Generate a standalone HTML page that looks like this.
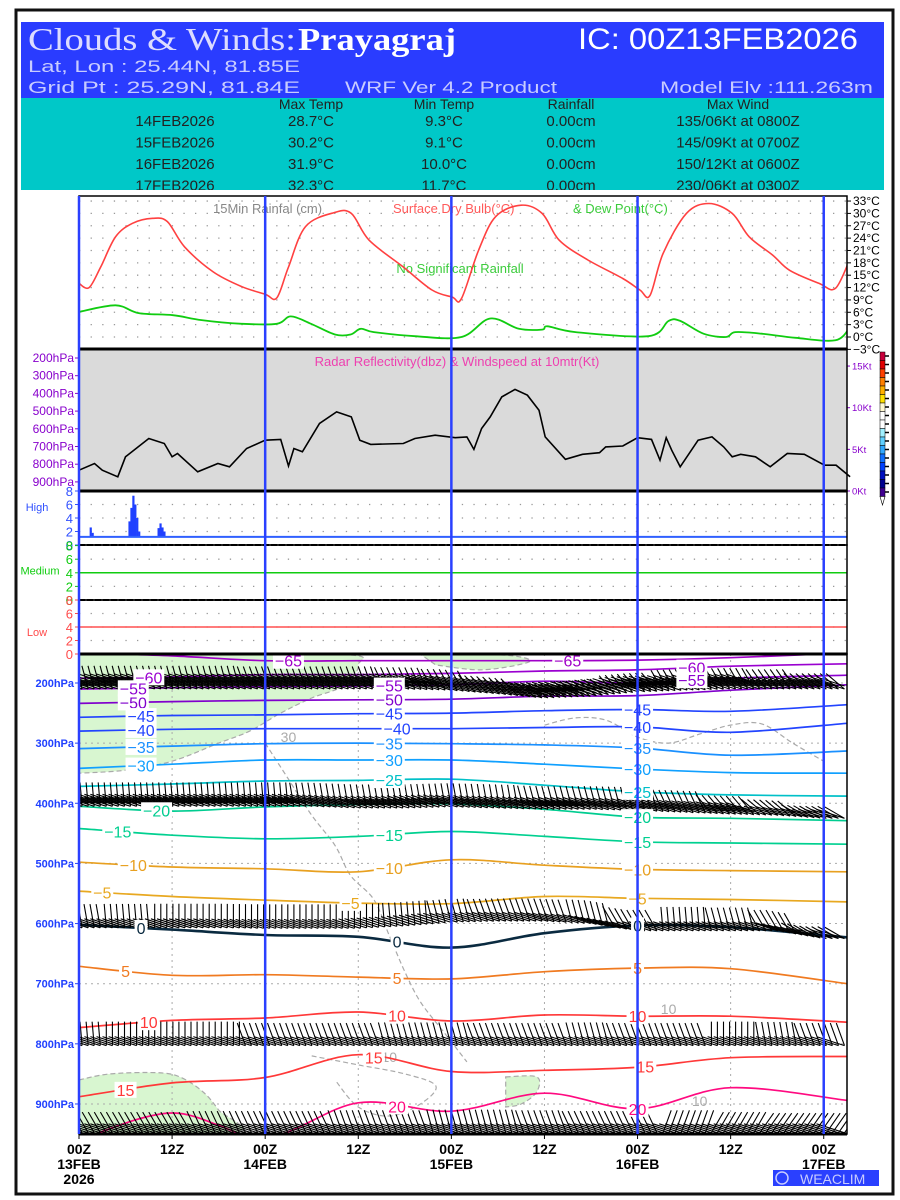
<!DOCTYPE html>
<html><head><meta charset="utf-8"><title>Clouds & Winds: Prayagraj</title>
<style>
html,body{margin:0;padding:0;background:#fff;}
svg{display:block;font-family:"Liberation Sans",sans-serif;}
</style></head>
<body>
<svg id="chart" width="900" height="1200" viewBox="0 0 900 1200" xmlns="http://www.w3.org/2000/svg">
<rect x="16" y="10" width="877" height="1184" fill="#fff" stroke="#111" stroke-width="3"/>
<g>
<rect x="21" y="22" width="863" height="76" fill="#2a3cff"/>
<text x="28" y="50" font-family="Liberation Serif,serif" font-size="32" fill="#dcdcff" textLength="268" lengthAdjust="spacingAndGlyphs">Clouds &amp; Winds:</text>
<text x="298" y="50" font-family="Liberation Serif,serif" font-size="32" font-weight="bold" fill="#fff" textLength="158" lengthAdjust="spacingAndGlyphs">Prayagraj</text>
<text x="578" y="49" font-size="30" fill="#fff" textLength="280" lengthAdjust="spacingAndGlyphs">IC: 00Z13FEB2026</text>
<text x="28" y="72" font-size="17" fill="#c8ccff" textLength="272" lengthAdjust="spacingAndGlyphs">Lat, Lon : 25.44N, 81.85E</text>
<text x="28" y="93" font-size="17" fill="#c8ccff" textLength="272" lengthAdjust="spacingAndGlyphs">Grid Pt  : 25.29N, 81.84E</text>
<text x="345" y="93" font-size="17" fill="#c8ccff" textLength="212" lengthAdjust="spacingAndGlyphs">WRF Ver 4.2 Product</text>
<text x="660" y="93" font-size="17" fill="#c8ccff" textLength="213" lengthAdjust="spacingAndGlyphs">Model Elv :111.263m</text>
<rect x="21" y="98" width="863" height="92" fill="#00c8c8"/>
</g>
<g id="tbl" font-size="15" fill="#222" text-anchor="middle"></g>
<g id="plot"></g>
</svg>
<script>
// ---------- summary table data ----------
const tblDates=["14FEB2026","15FEB2026","16FEB2026","17FEB2026"];
const tblMax=["28.7°C","30.2°C","31.9°C","32.3°C"];
const tblMin=["9.3°C","9.1°C","10.0°C","11.7°C"];
const tblRain=["0.00cm","0.00cm","0.00cm","0.00cm"];
const tblWind=["135/06Kt at 0800Z","145/09Kt at 0700Z","150/12Kt at 0600Z","230/06Kt at 0300Z"];

// ---------- surface temperature ----------
const tempT=[0,1.3,2.8,4.7,6.9,9.5,11.4,13.6,17.3,21,24,25.5,27,29.2,32.9,35.1,37.4,41.8,45.5,48.1,49.3,51.5,53.7,57,59.7,61.9,65.6,70.1,72.3,73.6,75.3,78.3,81.2,84.2,86.4,89.4,91.6,95.4,97.5,99.4];
const tempV=[13,12,17,24.3,27.6,28.8,28,21.9,15.8,12.2,10.4,9.5,17,26.8,30.2,30,23.5,17,11.4,9.7,9.3,21,29.2,32,30,23.5,18.7,14.2,11.4,10.1,20.3,30,32.4,30,24.3,19.9,16.2,13,11.8,19];
const dewT=[0,4.7,7.7,12.1,15.8,21,25.5,27.3,29.9,33,35,36.3,38,43.3,49.3,53,56.7,59.7,60.4,64,73.4,76,77.5,80.5,83.4,84.6,88,92.4,97.5,99.4];
const dewV=[6.1,7.7,5.8,5.3,4.1,3.2,3.2,5,3.2,0.6,0.6,2,1.2,0.2,0,4.5,2,1.8,2.6,1.2,0.2,3.9,3.9,0.8,0,1.2,0.8,-0.2,-0.8,2.4];
const tempTicks=[33,30,27,24,21,18,15,12,9,6,3,0,-3];

// ---------- 10m windspeed ----------
const wsT=[0,2,3,5,6,9,11,12,12.7,15.3,17.9,19.4,21.6,24,26,27,27.7,28.8,31,33.2,35.1,36.2,37.6,41.8,43.3,45.9,48.5,50,50.9,51.9,53,54.5,56.2,57.8,59.3,60.1,62.7,64.9,67.1,67.9,70.1,72,73.8,74.9,75.7,76.4,77.5,79.8,81.6,83.1,84.2,85.3,87.2,89.1,91.3,93.5,96.1,97.6,99.4];
const wsV=[2.5,3.3,2.5,1.7,4.1,6.3,5.7,4.1,4.5,2.3,3.3,2.9,5.1,6.1,6.2,3.0,5.1,4.7,8.1,9.5,8.9,6.1,5.6,5.7,6.3,6.7,6.4,6.5,5.0,7.5,8.9,11.3,12.2,11.5,9.7,6.5,3.8,4.4,4.6,5.3,5.4,6.4,6.2,3.7,6.4,4.9,2.9,6.1,6.5,5.3,4.1,4.4,4.1,2.9,4.5,4.4,3.1,3.1,1.7];
const ktTicks=[0,5,10,15];
const radarLabels=["200hPa","300hPa","400hPa","500hPa","600hPa","700hPa","800hPa","900hPa"];

// ---------- cloud fractions (high) ----------
const highT=[1.5,1.75,6.5,6.75,7,7.25,7.5,7.75,10.25,10.5,10.75,11];
const highV=[2.6,1.8,3.5,5.5,7.3,6,4,2,2.5,3.2,2.6,2];
const highBase=1.2, medLine=4, lowLine=4;

// ---------- upper air temperature contours ----------
const ctTimes=[0,12,24,36,48,60,72,84,99];
const ctLevels=[-65,-60,-55,-50,-45,-40,-35,-30,-25,-20,-15,-10,-5,0,5,10,15,20];
const ctP=[
[150,155,163,163,163,163,162,158,150],
[192,190,186,186,184,180,178,172,168],
[210,208,206,205,203,197,200,192,187],
[234,231,229,228,227,222,221,212,203],
[257,254,253,251,250,246,244,247,236],
[280,277,276,276,276,274,273,282,267],
[309,305,301,300,301,303,308,320,313],
[342,335,328,328,328,335,343,349,350],
[372,368,363,362,360,370,381,386,388],
[405,413,406,402,401,410,423,425,429],
[442,453,459,455,447,455,464,466,468],
[498,506,509,514,494,503,510,512,514],
[546,555,561,566,567,555,558,560,564],
[602,610,619,622,640,616,603,606,623],
[671,686,685,689,692,680,674,675,700],
[773,761,757,747,762,752,754,754,764],
[888,865,856,818,846,844,839,823,821],
[960,915,955,898,912,882,908,873,894]];
const ctColors=["#a000c8","#9a00d0","#8c00d0","#8000cc","#2244ff","#2244ff","#1a90ff","#10a0ff","#00c0c8","#00cc90","#00d090","#e8a020","#e8a820","#0a2a40","#f07a20","#ff3838","#ff3838","#ff0a80"];
const ctLabelT=[[27,63],[9,79],[7,40,79],[7,40],[8,40,72],[8,41,72],[8,40,72],[8,40,72],[40,72],[10,72],[5,40,72],[7,40,72],[3,35,72],[8,41,72],[6,41,72],[9,41,72],[6,38,73],[41,72]];
const pTicks=[200,300,400,500,600,700,800,900];

// ---------- moist (RH) regions ----------
const moistA_T=[0,33,36,34,30,26,22,18,12,6,0];
const moistA_P=[152,152,170,205,225,250,280,300,330,345,350];
const moistB_T=[0,4,10,13,16,18,20,0];
const moistB_P=[860,850,848,855,880,910,948,948];
const moistC_T=[55,59,59,57,55];
const moistC_P=[855,855,880,900,905];
const moistD_T=[44,50,56,58,52,46];
const moistD_P=[152,152,155,165,178,170];
const rh1_T=[24,27,30,33,35,38,40,42,44,47,50];
const rh1_P=[300,360,420,470,520,560,620,680,730,780,830];
const rh2_T=[60,64,68,72,76,80,84,88,92,96];
const rh2_P=[270,258,262,290,300,285,270,268,300,330];
const rh3_T=[30,36,42,46,44,40,36,33];
const rh3_P=[820,835,850,870,900,920,905,860];

// ---------- wind barbs ----------
const barbT=[0,6,12,18,24,30,36,42,48,54,60,66,72,78,84,90,96];
const row1P=[210,210,210,210,210,210,210,210,212,218,225,222,215,212,210,210,210];
const row1D=[345,345,345,345,340,340,340,335,330,315,305,310,320,330,330,325,310];
const row1S=[60,65,70,70,70,75,75,70,70,80,80,75,70,70,65,60,55];
const row2P=[405,405,405,405,405,405,408,408,406,408,410,410,412,415,418,420,425];
const row2D=[355,355,355,355,355,350,350,350,350,350,345,345,345,335,320,310,300];
const row2S=[50,50,50,50,55,55,55,55,55,55,50,50,50,45,40,35,30];
const row3P=[607,607,607,607,608,608,608,604,598,596,596,600,612,612,612,612,625];
const row3D=[350,355,0,0,0,0,0,355,345,340,340,345,330,355,345,330,300];
const row3S=[20,20,25,25,25,25,25,30,35,35,30,25,20,25,25,20,15];
const row4P=[803,803,803,803,803,803,803,803,803,803,803,803,803,803,803,803,803];
const row4D=[355,0,0,0,340,340,340,345,345,340,340,345,340,340,0,350,340];
const row4S=[15,15,15,15,20,20,20,20,20,20,20,20,20,15,15,15,15];
const row5P=[948,948,948,948,948,948,948,948,948,948,948,948,948,948,948,948,948];
const row5D=[330,330,330,335,335,335,340,340,345,345,340,335,335,20,30,35,35];
const row5S=[15,15,20,20,20,15,15,20,20,20,20,20,20,15,15,15,15];
const xTimeTicks=[0,12,24,36,48,60,72,84,96];
const xTop=["00Z","12Z","00Z","12Z","00Z","12Z","00Z","12Z","00Z"];
const xDate=["13FEB","","14FEB","","15FEB","","16FEB","","17FEB"];

// ---------- geometry ----------
const X0=79, X1=847, TMAX=99;
const xOf=t=>X0+(t/TMAX)*(X1-X0);
const yT=T=>337-4.12*T;
const yK=k=>491-8.33*k;
const yHigh=v=>545-v*6.75, yMed=v=>600-v*6.8, yLow=v=>654-v*6.75;
const yP=p=>683+(p-200)*0.6014;
const NS="http://www.w3.org/2000/svg";
const plot=document.getElementById('plot');
function mk(tag,attrs,parent){const e=document.createElementNS(NS,tag);for(const k in attrs)e.setAttribute(k,attrs[k]);(parent||plot).appendChild(e);return e;}
function interp(ts,vs,t){if(t<=ts[0])return vs[0];for(let i=1;i<ts.length;i++){if(t<=ts[i]){const f=(t-ts[i-1])/(ts[i]-ts[i-1]);return vs[i-1]+f*(vs[i]-vs[i-1]);}}return vs[vs.length-1];}
function nearest(ts,vs,t){let b=0;for(let i=0;i<ts.length;i++){if(Math.abs(ts[i]-t)<Math.abs(ts[b]-t))b=i;}return vs[b];}
function smoothPath(pts){let d="M"+pts[0][0].toFixed(1)+","+pts[0][1].toFixed(1);for(let i=0;i<pts.length-1;i++){const p0=pts[Math.max(0,i-1)],p1=pts[i],p2=pts[i+1],p3=pts[Math.min(pts.length-1,i+2)];const c1=[p1[0]+(p2[0]-p0[0])/6,p1[1]+(p2[1]-p0[1])/6],c2=[p2[0]-(p3[0]-p1[0])/6,p2[1]-(p3[1]-p1[1])/6];d+="C"+c1[0].toFixed(1)+","+c1[1].toFixed(1)+" "+c2[0].toFixed(1)+","+c2[1].toFixed(1)+" "+p2[0].toFixed(1)+","+p2[1].toFixed(1);}return d;}

// table
const tbl=document.getElementById('tbl');
[["Max Temp",311],["Min Temp",444],["Rainfall",571],["Max Wind",738]].forEach(h=>{
  const e=mk('text',{x:h[1],y:109,'font-size':14},tbl);e.textContent=h[0];
  
  
});
tblDates.forEach((d,i)=>{
  const y=126+i*21.5;
  [[d,175],[tblMax[i],311],[tblMin[i],444],[tblRain[i],571],[tblWind[i],738]].forEach(c=>{
    const e=mk('text',{x:c[1],y:y},tbl);e.textContent=c[0];
    
    
  });
});
mk('rect',{x:21,y:190,width:863,height:6,fill:'#fff'});

// clip paths
const defs=mk('defs',{});
const cp=mk('clipPath',{id:'clipLower'},defs);mk('rect',{x:X0,y:654,width:X1-X0,height:480},cp);
const cp2=mk('clipPath',{id:'clipTop'},defs);mk('rect',{x:X0,y:196,width:X1-X0,height:153},cp2);

// ---------- top panel ----------
const gTop=mk('g',{'clip-path':'url(#clipTop)'});


tempTicks.forEach(T=>{mk('line',{x1:X0,x2:X1,y1:yT(T),y2:yT(T),stroke:'#999','stroke-width':1.3,'stroke-dasharray':'1.3,10.3'},gTop);});
const tt=mk('text',{x:213,y:213,'font-size':13,fill:'#888'},gTop);tt.textContent="15Min Rainfal (cm)";

const tt2=mk('text',{x:393,y:213,'font-size':13,fill:'#ff5a5a'},gTop);tt2.textContent="Surface Dry Bulb(°C)";

const tt3=mk('text',{x:573,y:213,'font-size':13,fill:'#3ccc3c'},gTop);tt3.textContent="& Dew Point(°C)";

const nsr=mk('text',{x:460,y:273,'font-size':13,fill:'#3ccc3c','text-anchor':'middle'},gTop);nsr.textContent="No Significant Rainfall";

const tl=mk('path',{d:smoothPath(tempT.map((t,i)=>[xOf(t),yT(tempV[i])])),fill:'none',stroke:'#ff4040','stroke-width':1.6},gTop);

const dl=mk('path',{d:smoothPath(dewT.map((t,i)=>[xOf(t),yT(dewV[i])])),fill:'none',stroke:'#10cc10','stroke-width':1.8},gTop);

tempTicks.forEach(T=>{
  mk('line',{x1:X1,x2:X1+4,y1:yT(T),y2:yT(T),stroke:'#000'});
  const e=mk('text',{x:X1+6,y:yT(T)+4,'font-size':12,fill:'#000'});e.textContent=(T<0?'−':'')+Math.abs(T)+'°C';
  
});

// ---------- radar/wind panel ----------
const rb=mk('rect',{x:X0,y:349,width:X1-X0,height:142,fill:'#dadada'});

const rt=mk('text',{x:457,y:366,'font-size':13,fill:'#ee40b0','text-anchor':'middle'});rt.textContent="Radar Reflectivity(dbz) & Windspeed at 10mtr(Kt)";

radarLabels.forEach((l,i)=>{
  const y=358+i*17.7;
  mk('line',{x1:X0-4,x2:X0,y1:y,y2:y,stroke:'#8800cc'});
  const e=mk('text',{x:X0-5,y:y+4,'font-size':12,fill:'#8800cc','text-anchor':'end'});e.textContent=l;
  
});
ktTicks.forEach(k=>{
  mk('line',{x1:X1,x2:X1+3,y1:yK(k),y2:yK(k),stroke:'#8800cc'});
  const e=mk('text',{x:X1+5,y:yK(k)+3.5,'font-size':9.5,fill:'#8800cc'});e.textContent=k+'Kt';
  
});
const wl=mk('path',{d:'M'+wsT.map((t,i)=>xOf(t).toFixed(1)+','+yK(wsV[i]).toFixed(1)).join('L'),fill:'none',stroke:'#000','stroke-width':1.6});


// colorbar
const cbCols=["#c8003c","#e00000","#ff4000","#ff8000","#ffb000","#ffe000","#fff8d0","#ffffff","#ffffff","#a0f0ff","#60d0ff","#30a8ff","#1070ff","#0040ff","#0010c0","#000090","#400090"];
const cbG=mk('g',{});
cbCols.forEach((c,i)=>{mk('rect',{x:880,y:352+i*8.5,width:5,height:8.5,fill:c,stroke:'#000','stroke-width':0.5},cbG);mk('line',{x1:885,x2:889,y1:356+i*8.5,y2:356+i*8.5,stroke:'#000','stroke-width':1.5},cbG);});
mk('path',{d:'M880,496.5 L885,496.5 L882.5,505 Z',fill:'#fff',stroke:'#000','stroke-width':0.6},cbG);

// ---------- cloud panels ----------
[[491,545,'#3050ff',yHigh,'High','high-cloud-axis'],[545,600,'#10cc10',yMed,'Medium','medium-cloud-axis'],[600,654,'#ff4a4a',yLow,'Low','low-cloud-axis']].forEach((pn,k)=>{
  [2,4,6].forEach(v=>{mk('line',{x1:X0,x2:X1,y1:pn[3](v),y2:pn[3](v),stroke:'#999','stroke-width':1.3,'stroke-dasharray':'1.3,10.3'});});
  [0,2,4,6,8].forEach(v=>{
    const e=mk('text',{x:X0-6,y:pn[3](v)+5,'font-size':13,fill:pn[2],'text-anchor':'end'});e.textContent=v;
    
    mk('line',{x1:X0-4,x2:X0,y1:pn[3](v),y2:pn[3](v),stroke:pn[2]});
  });
  const e=mk('text',{x:k==1?40:37,y:(pn[0]+pn[1])/2+(k==0?-7:(k==2?9:2)),'font-size':11,fill:pn[2],'text-anchor':'middle'});e.textContent=pn[4];
  
});
highT.forEach((t,i)=>{
  const b=mk('rect',{x:xOf(t)-1,y:yHigh(highV[i]),width:2.2,height:yHigh(highBase)-yHigh(highV[i]),fill:'#2040ff'});
  
});
mk('line',{x1:X0,x2:X1,y1:yHigh(highBase),y2:yHigh(highBase),stroke:'#3060ff','stroke-width':2});
mk('line',{x1:X0,x2:X1,y1:yMed(medLine),y2:yMed(medLine),stroke:'#10cc10','stroke-width':1.5});
mk('line',{x1:X0,x2:X1,y1:yLow(lowLine),y2:yLow(lowLine),stroke:'#ff5050','stroke-width':1.5});
mk('line',{x1:X0,x2:X1,y1:545,y2:545,stroke:'#000','stroke-width':2,'stroke-dasharray':'6,2'});
mk('line',{x1:X0,x2:X1,y1:600,y2:600,stroke:'#000','stroke-width':2,'stroke-dasharray':'6,2'});

// ---------- lower panel ----------
const gL=mk('g',{'clip-path':'url(#clipLower)'});

[[moistA_T,moistA_P],[moistB_T,moistB_P],[moistC_T,moistC_P],[moistD_T,moistD_P]].forEach(r=>{
  const e=mk('path',{d:smoothPath(r[0].map((t,i)=>[xOf(t),yP(r[1][i])]))+'Z',fill:'#d8f6d0',stroke:'#aaa','stroke-width':1.2,'stroke-dasharray':'5,3'},gL);
  
});
[[rh1_T,rh1_P],[rh2_T,rh2_P],[rh3_T,rh3_P]].forEach(r=>{
  const e=mk('path',{d:smoothPath(r[0].map((t,i)=>[xOf(t),yP(r[1][i])])),fill:'none',stroke:'#aaa','stroke-width':1.2,'stroke-dasharray':'5,3'},gL);
  
});
[["30",27,290],["10",76,742],["10",40,822],["10",80,895]].forEach(l=>{
  const e=mk('text',{x:xOf(l[1]),y:yP(l[2])+5,'font-size':14,fill:'#aaa','text-anchor':'middle'},gL);e.textContent=l[0];
  
});
pTicks.forEach(p=>{mk('line',{x1:X0,x2:X1,y1:yP(p),y2:yP(p),stroke:'#aaa','stroke-width':1,'stroke-dasharray':'2,4'},gL);});
[12,36,60,84].forEach(t=>{mk('line',{x1:xOf(t),x2:xOf(t),y1:654,y2:1134,stroke:'#aaa','stroke-width':1,'stroke-dasharray':'2,4'},gL);});
ctLevels.forEach((lv,i)=>{
  const e=mk('path',{d:smoothPath(ctTimes.map((t,j)=>[xOf(t),yP(ctP[i][j])])),fill:'none',stroke:ctColors[i],'stroke-width':lv===0?2.6:1.7},gL);
  
});
// barbs: staff rises from base toward direction; long feather from base toward upper-left
function barbRow(ps,ds,ss,name){
  const g=mk('g',{stroke:'#000','stroke-width':1.1,fill:'none'},gL);
  
  for(let t=0.4;t<=TMAX;t+=0.78){
    const p=interp(barbT,ps,t),d=nearest(barbT,ds,t)*Math.PI/180,s=nearest(barbT,ss,t);
    const bx=xOf(t),by=yP(p),L=24;
    const tx=bx+L*Math.sin(d),ty=by-L*Math.cos(d);
    let dd='M'+bx.toFixed(1)+','+by.toFixed(1)+'L'+tx.toFixed(1)+','+ty.toFixed(1);
    const nf=Math.min(3,Math.max(1,Math.round(s/25)));
    for(let k=0;k<nf;k++){
      const fx=bx-k*3*Math.sin(d)*0,fy=by-k*3;
      dd+='M'+fx.toFixed(1)+','+fy.toFixed(1)+'L'+(fx-28).toFixed(1)+','+(fy-9).toFixed(1);
    }
    mk('path',{d:dd},g);
  }
}
barbRow(row1P,row1D,row1S,'wind-barbs-200hpa');
barbRow(row2P,row2D,row2S,'wind-barbs-400hpa');
barbRow(row3P,row3D,row3S,'wind-barbs-600hpa');
barbRow(row4P,row4D,row4S,'wind-barbs-800hpa');
barbRow(row5P,row5D,row5S,'wind-barbs-surface');
ctLevels.forEach((lv,i)=>{
  ctLabelT[i].forEach(t=>{
    const p=interp(ctTimes,ctP[i],t);
    if(p<152||p>945)return;
    const txt=(lv<0?'−':'')+Math.abs(lv);
    const w=txt.length*9+4;
    mk('rect',{x:xOf(t)-w/2,y:yP(p)-8,width:w,height:16,fill:'#fff'},gL);
    const e=mk('text',{x:xOf(t),y:yP(p)+6,'font-size':16,fill:ctColors[i],'text-anchor':'middle'},gL);e.textContent=txt;
    
  });
});
pTicks.forEach(p=>{
  mk('line',{x1:X0-4,x2:X0,y1:yP(p),y2:yP(p),stroke:'#2040ff'});
  const e=mk('text',{x:X0-5,y:yP(p)+4,'font-size':11,'font-weight':'bold',fill:'#2040ff','text-anchor':'end'});e.textContent=p+'hPa';
  
});

// frames
[[196,349],[349,491],[491,545],[545,600],[600,654],[654,1134]].forEach(r=>{mk('rect',{x:X0,y:r[0],width:X1-X0,height:r[1]-r[0],fill:'none',stroke:'#000','stroke-width':1.5});});
[349,491,654,1134].forEach(y=>{mk('line',{x1:X0,x2:X1,y1:y,y2:y,stroke:'#000','stroke-width':3});});
[0,24,48,72,96].forEach(t=>{
  const e=mk('line',{x1:xOf(t),x2:xOf(t),y1:196,y2:1134,stroke:'#2a40ff','stroke-width':2.5});
  
});
xTimeTicks.forEach((t,i)=>{
  mk('line',{x1:xOf(t),x2:xOf(t),y1:1134,y2:1139,stroke:'#000'});
  const a=mk('text',{x:xOf(t),y:1154,'font-size':14,'font-weight':'bold','text-anchor':'middle'});a.textContent=xTop[i];
  
  if(xDate[i]){const b=mk('text',{x:xOf(t),y:1169,'font-size':14,'font-weight':'bold','text-anchor':'middle'});b.textContent=xDate[i];
  }
});
const yr=mk('text',{x:X0,y:1184,'font-size':14,'font-weight':'bold','text-anchor':'middle'});yr.textContent="2026";

const wm=mk('rect',{x:773,y:1170,width:106,height:16,fill:'#2a40ff'});

mk('circle',{cx:782,cy:1178,r:6,fill:'none',stroke:'#c8ccff','stroke-width':1.5});
const wt=mk('text',{x:800,y:1184,'font-size':14,fill:'#c8ccff'});wt.textContent="WEACLIM";

</script>
</body></html>
